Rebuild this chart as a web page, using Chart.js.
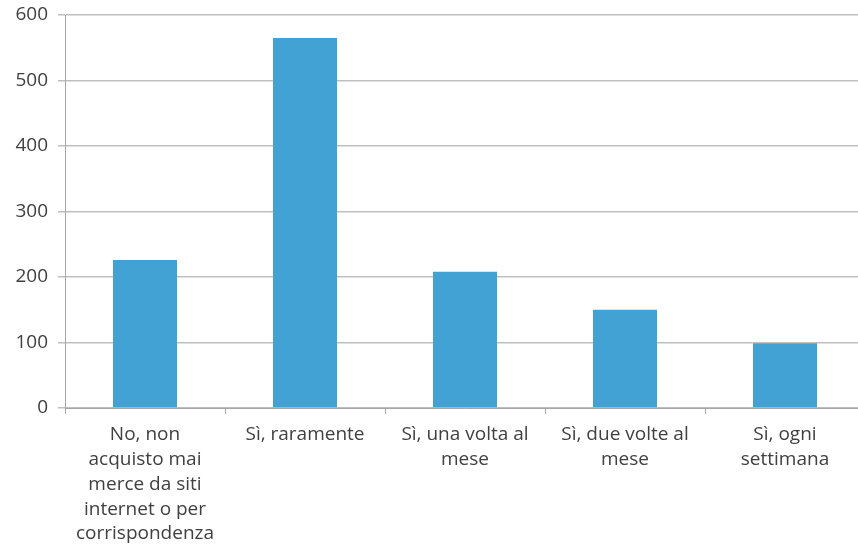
<!DOCTYPE html>
<html>
<head>
<meta charset="utf-8">
<script src="https://cdn.jsdelivr.net/npm/chart.js@4/dist/chart.umd.min.js"></script>
<style>
  html, body { margin: 0; padding: 0; background: #fff; overflow: hidden; }
  #wrap { width: 865px; height: 548px; }
</style>
</head>
<body>
<div id="wrap"><canvas id="barChart"></canvas></div>
<script>
// risposte alla domanda sugli acquisti online
const categories = [
  ['No, non', 'acquisto mai', 'merce da siti', 'internet o per', 'corrispondenza'],
  'Sì, raramente',
  ['Sì, una volta al', 'mese'],
  ['Sì, due volte al', 'mese'],
  ['Sì, ogni', 'settimana']
];
const counts = [226, 565, 208, 150, 99];
const yTicks = [0, 100, 200, 300, 400, 500, 600];

const textColor = '#404040';
const fontFamily = '"Open Sans", Lato, sans-serif';

new Chart(document.getElementById('barChart'), {
  type: 'bar',
  data: {
    labels: categories,
    datasets: [{
      label: 'Risposte',
      data: counts,
      backgroundColor: '#41A2D3',
      borderWidth: 0,
      categoryPercentage: 1,
      barPercentage: 0.4
    }]
  },
  options: {
    responsive: true,
    maintainAspectRatio: false,
    animation: false,
    layout: { padding: { top: 15, right: 0, bottom: 0, left: 0 } },
    plugins: {
      legend: { display: false },
      tooltip: { enabled: false }
    },
    scales: {
      x: {
        offset: true,
        grid: {
          offset: true,
          drawOnChartArea: false,
          drawTicks: true,
          tickLength: 6,
          color: '#A6A6A6'
        },
        border: { color: '#A6A6A6', width: 1 },
        ticks: {
          color: textColor,
          font: { family: fontFamily, size: 19, lineHeight: 1.31 },
          padding: 8,
          maxRotation: 0,
          autoSkip: false
        },
        afterFit: function(scale) { scale.height = 140; }
      },
      y: {
        min: 0,
        max: 600,
        afterBuildTicks: function(scale) {
          scale.ticks = yTicks.map(v => ({ value: v }));
        },
        grid: {
          color: '#BFBFBF',
          lineWidth: 1.5,
          tickLength: 7
        },
        border: { color: '#A6A6A6', width: 1 },
        ticks: {
          color: textColor,
          font: { family: fontFamily, size: 19, lineHeight: 0.6 },
          padding: 10
        },
        afterFit: function(scale) {
          scale.width = 65;
          scale.paddingTop = 0;
          scale.paddingBottom = 0;
        }
      }
    }
  }
});
</script>
</body>
</html>
